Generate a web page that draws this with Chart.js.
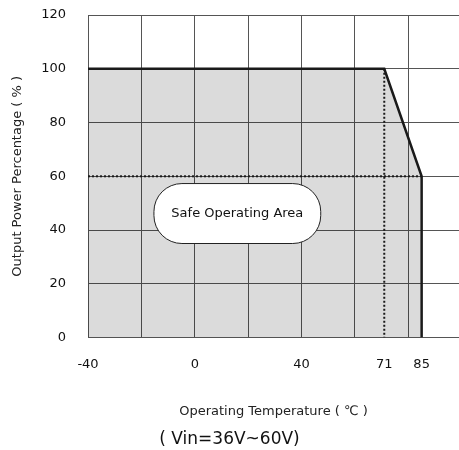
<!DOCTYPE html>
<html>
<head>
<meta charset="utf-8">
<script src="https://cdn.jsdelivr.net/npm/chart.js@4.4.1/dist/chart.umd.min.js"></script>
<style>
  body { margin: 0; background: #fff; }
  #wrap { width: 459px; height: 450px; }
</style>
</head>
<body>
<div id="wrap"><canvas id="derating"></canvas></div>
<script>
// derating curve
const curveTemp = [-40, 71, 85, 85];
const curveLoad = [100, 100, 60, 0];
// dotted guide lines
const guide60Temp = [-40, 85];
const guide60Load = [60, 60];
const guide71Temp = [71, 71];
const guide71Load = [100, 0];
// axes
const gridTemps = [-40, -20, 0, 20, 40, 60, 80];
const tempLabels = [-40, 0, 40, 71, 85];
const loadTicks = [0, 20, 40, 60, 80, 100, 120];
const areaText = 'Safe Operating Area';

const font = "'DejaVu Sans', sans-serif";

function pts(xs, ys) {
    return xs.map((x, i) => ({ x: x, y: ys[i] }));
}

const areaLabel = {
    id: 'areaLabel',
    afterDatasetsDraw(chart) {
        const c = chart.ctx;
        const xs = chart.scales.x, ys = chart.scales.y;
        const left = xs.getPixelForValue(-15.3);
        const right = xs.getPixelForValue(47.2);
        const top = ys.getPixelForValue(57.3);
        const bottom = ys.getPixelForValue(35);
        c.save();
        c.beginPath();
        c.roundRect(left, top, right - left, bottom - top, 28);
        c.fillStyle = '#fff';
        c.fill();
        c.lineWidth = 1;
        c.strokeStyle = '#222';
        c.stroke();
        c.fillStyle = '#111';
        c.font = '13px ' + font;
        c.textAlign = 'center';
        c.textBaseline = 'middle';
        c.fillText(areaText, (left + right) / 2, (top + bottom) / 2);
        c.restore();
    }
};

new Chart(document.getElementById('derating'), {
    type: 'line',
    data: {
        datasets: [{
            data: pts(curveTemp, curveLoad),
            borderColor: '#1a1a1a',
            borderWidth: 2.5,
            backgroundColor: 'rgba(0,0,0,0.14)',
            fill: 'origin',
            pointRadius: 0,
            tension: 0,
            order: 3
        }, {
            data: pts(guide60Temp, guide60Load),
            borderColor: '#1a1a1a',
            borderWidth: 2,
            borderDash: [2, 2],
            pointRadius: 0,
            fill: false,
            order: 1
        }, {
            data: pts(guide71Temp, guide71Load),
            borderColor: '#1a1a1a',
            borderWidth: 2,
            borderDash: [2, 2],
            pointRadius: 0,
            fill: false,
            order: 1
        }]
    },
    options: {
        responsive: true,
        maintainAspectRatio: false,
        animation: false,
        layout: { padding: { top: 15, right: 0, left: 0, bottom: 0 } },
        plugins: {
            legend: { display: false },
            tooltip: { enabled: false },
            title: {
                display: true,
                position: 'bottom',
                text: '( Vin=36V~60V)',
                color: '#111',
                font: { family: font, size: 17, weight: 'normal' },
                padding: { top: 10, bottom: 0 }
            }
        },
        scales: {
            x: {
                type: 'linear',
                min: -40,
                max: 99,
                afterBuildTicks(axis) {
                    axis.ticks = gridTemps.concat([71, 85]).sort((a, b) => a - b).map(v => ({ value: v }));
                },
                afterFit(axis) { axis.height = 82; },
                border: { color: '#555', width: 1 },
                grid: {
                    color: ctx => (ctx.tick && gridTemps.includes(ctx.tick.value)) ? '#555' : 'rgba(0,0,0,0)',
                    lineWidth: 1,
                    drawTicks: true,
                    tickLength: 17,
                    tickColor: 'rgba(0,0,0,0)'
                },
                ticks: {
                    autoSkip: false,
                    maxRotation: 0,
                    padding: 2,
                    color: '#111',
                    font: { family: font, size: 13 },
                    callback: v => tempLabels.includes(v) ? String(v) : ''
                },
                title: {
                    display: true,
                    text: 'Operating Temperature ( ℃ )',
                    color: '#222',
                    font: { family: font, size: 13 },
                    padding: { top: 8, bottom: 0 }
                }
            },
            y: {
                min: 0,
                max: 120,
                afterBuildTicks(axis) {
                    axis.ticks = loadTicks.map(v => ({ value: v }));
                },
                afterFit(axis) { axis.width = 88; },
                border: { color: '#555', width: 1 },
                grid: {
                    color: '#555',
                    lineWidth: 1,
                    drawTicks: true,
                    tickLength: 20,
                    tickColor: 'rgba(0,0,0,0)'
                },
                ticks: {
                    padding: 2,
                    color: '#111',
                    font: { family: font, size: 13 }
                },
                title: {
                    display: true,
                    text: 'Output Power Percentage ( % )',
                    color: '#222',
                    font: { family: font, size: 13 },
                    padding: { top: 10, bottom: 0 }
                }
            }
        }
    },
    plugins: [areaLabel]
});
</script>
</body>
</html>
